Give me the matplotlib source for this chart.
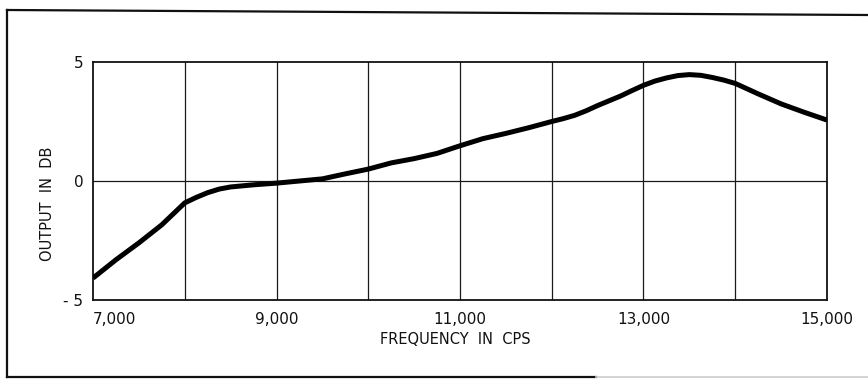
import matplotlib.pyplot as plt
from matplotlib.lines import Line2D

# frequency response readings
freq = [7000, 7250, 7500, 7750, 8000, 8125, 8250, 8375, 8500, 8750, 9000,
        9250, 9500, 9750, 10000, 10250, 10500, 10750, 11000, 11250, 11500,
        11750, 12000, 12125, 12250, 12375, 12500, 12625, 12750, 12875, 13000,
        13125, 13250, 13375, 13500, 13625, 13750, 13875, 14000, 14125, 14250,
        14500, 14750, 15000]
output_db = [-4.08, -3.31, -2.6, -1.84, -0.92, -0.69, -0.49, -0.34, -0.25,
             -0.16, -0.09, 0.0, 0.09, 0.3, 0.5, 0.76, 0.94, 1.16, 1.48, 1.78,
             2.0, 2.24, 2.5, 2.62, 2.76, 2.95, 3.17, 3.37, 3.57, 3.8, 4.02,
             4.2, 4.33, 4.43, 4.47, 4.44, 4.35, 4.24, 4.1, 3.88, 3.66, 3.24,
             2.89, 2.56]

xticks = [7000, 9000, 11000, 13000, 15000]
xtick_labels = ['7,000', '9,000', '11,000', '13,000', '15,000']
yticks = [-5, 0, 5]
ytick_labels = ['- 5', '0', '5']

W, H = 868, 381
fig = plt.figure(figsize=(W / 100, H / 100), dpi=100)
ax = fig.add_axes([93 / W, 1 - 300 / H, 734 / W, 238 / H])

ax.plot(freq, output_db, color='black', lw=3.6, solid_joinstyle='round',
        solid_capstyle='butt', zorder=3)

ax.set_xlim(7000, 15000)
ax.set_ylim(-5, 5)

# grid every 1000 cps and every 5 dB
for f in range(8000, 15000, 1000):
    ax.axvline(f, color='#1a1a1a', lw=0.9, zorder=1)
ax.axhline(0, color='#1a1a1a', lw=0.9, zorder=1)

ax.set_xticks(xticks)
ax.set_xticklabels(xtick_labels)
ax.set_yticks(yticks)
ax.set_yticklabels(ytick_labels)
ax.tick_params(length=0, labelsize=11, colors='#111111')
ax.tick_params(axis='x', pad=9)
ax.tick_params(axis='y', pad=7)
ax.get_xticklabels()[0].set_horizontalalignment('left')

for s in ax.spines.values():
    s.set_linewidth(1.3)
    s.set_color('#111111')

ax.set_xlabel('FREQUENCY  IN  CPS', fontsize=10.5, color='#111111')
ax.xaxis.set_label_coords((455 - 93) / 734, (300 - 339) / 238)
ax.xaxis.label.set_va('center')
ax.set_ylabel('OUTPUT  IN  DB', fontsize=10.5, color='#111111', va='center')
ax.yaxis.set_label_coords((48 - 93) / 734, (300 - 204) / 238)

# outer frame
def px_line(x0, y0, x1, y1, color='#111111', lw=1.6):
    fig.add_artist(Line2D([x0 / W, x1 / W], [1 - y0 / H, 1 - y1 / H],
                          color=color, lw=lw, transform=fig.transFigure))

px_line(7, 10, 868, 15)
px_line(7, 10, 7, 377)
px_line(7, 377, 596, 377)
px_line(596, 377, 868, 377, color='#cccccc', lw=1.2)

fig.savefig('out.png', dpi=100)
